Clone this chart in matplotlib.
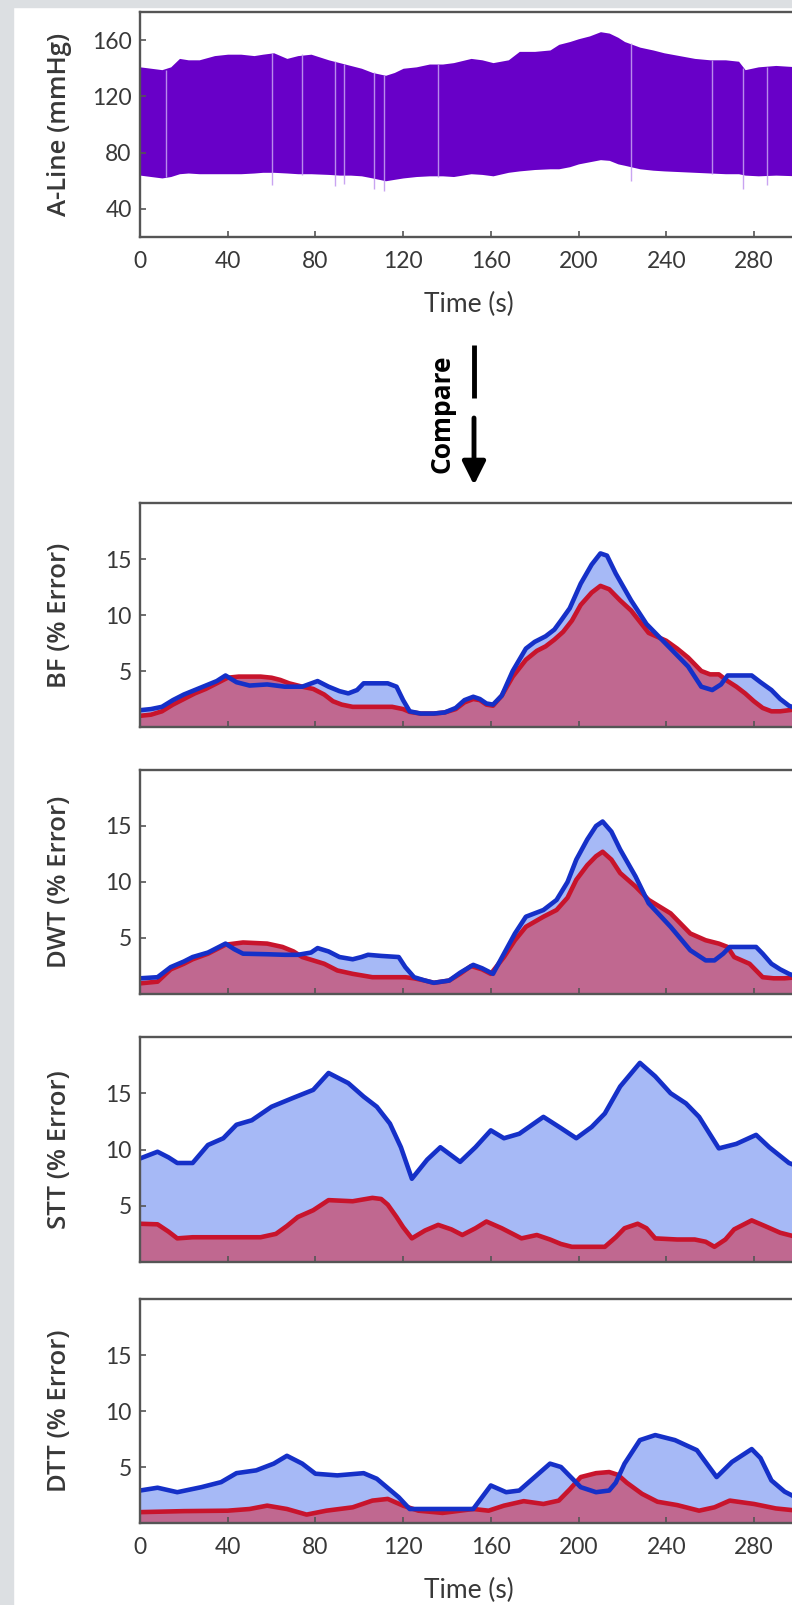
import numpy as np
import matplotlib
matplotlib.use("Agg")
import matplotlib.pyplot as plt
from matplotlib.patches import Rectangle, FancyArrowPatch
from matplotlib.lines import Line2D

plt.rcParams['font.family'] = ['Lato', 'DejaVu Sans']

# ---- data ----
time_ticks = [0, 40, 80, 120, 160, 200, 240, 280]

# arterial line envelope (mmHg)
aline_t = [0, 5, 10, 14, 18, 22, 27, 34, 40, 46, 52, 56, 61, 67, 72, 78, 86, 91, 96, 101,
           106, 112, 116, 120, 126, 132, 138, 143, 151, 156, 161, 168, 173, 180, 187, 191,
           196, 200, 205, 210, 214, 218, 221, 228, 234, 239, 246, 253, 260, 267, 273, 276,
           282, 290, 300]
aline_sys = [141, 140, 139, 141, 147, 146, 146, 149, 150, 150, 149, 150, 151, 147, 149, 150,
             146, 144, 142, 140, 137, 135, 137, 140, 141, 143, 143, 144, 147, 146, 144, 146,
             152, 152, 153, 157, 159, 161, 163, 166, 165, 162, 159, 155, 153, 151, 149, 147,
             146, 146, 145, 139, 141, 142, 141]
aline_dia = [64, 63, 62, 63, 65, 65.5, 65, 65, 65, 65, 65.5, 66, 66, 65.5, 65, 65, 64.5, 64,
             64, 63.5, 62, 60, 61, 62, 63, 63.5, 63.5, 63, 65, 64.5, 63.5, 66, 67, 68, 68.5,
             68.5, 70, 72, 73.5, 75, 74.5, 72, 71, 68.5, 67.5, 67, 66.5, 66, 65.5, 65, 65,
             64, 63.5, 64, 63.5]
artifact_t = [12, 60, 74, 89, 93, 106.5, 111.5, 136, 224, 261, 275, 286]
artifact_low = [63, 57, 64, 56, 58, 54, 53, 63, 60, 65, 54, 57]
artifact_high = [139, 151, 150, 145, 143, 137, 135, 143, 158, 146, 140, 141]

# BF (% error)
bf_blue_t = [0, 5, 10, 15, 20, 25, 30, 35, 39, 44, 50, 58, 66, 74, 81, 86, 91, 95, 99, 102,
             108, 113, 117, 120, 123, 128, 134, 139, 144, 148, 152, 155, 158, 161, 165, 170,
             176, 180, 185, 189, 192, 196, 201, 206, 210, 213, 217, 224, 231, 240, 250, 256,
             261, 265, 268, 274, 279, 283, 288, 292, 296, 300]
bf_blue = [1.5, 1.6, 1.8, 2.4, 2.9, 3.3, 3.7, 4.1, 4.6, 4.0, 3.7, 3.8, 3.6, 3.6, 4.1, 3.6,
           3.2, 3.0, 3.3, 3.9, 3.9, 3.9, 3.6, 2.4, 1.4, 1.2, 1.2, 1.3, 1.7, 2.4, 2.7, 2.5,
           2.1, 2.0, 2.8, 5.0, 7.0, 7.6, 8.1, 8.7, 9.5, 10.6, 12.8, 14.5, 15.5, 15.3, 13.7,
           11.3, 9.2, 7.4, 5.4, 3.6, 3.3, 3.8, 4.6, 4.6, 4.6, 4.0, 3.3, 2.5, 1.9, 1.6]
bf_red_t = [0, 5, 10, 15, 20, 25, 30, 35, 40, 45, 50, 55, 60, 64, 68, 74, 79, 84, 88, 92,
            97, 105, 115, 120, 123, 128, 134, 139, 144, 148, 152, 155, 158, 161, 165, 170,
            176, 181, 185, 189, 193, 197, 201, 206, 210, 214, 219, 224, 232, 240, 245, 250,
            256, 260, 264, 268, 272, 276, 280, 284, 288, 292, 296, 300]
bf_red = [1.0, 1.1, 1.4, 2.0, 2.5, 3.0, 3.4, 3.9, 4.4, 4.5, 4.5, 4.5, 4.4, 4.2, 3.9, 3.6,
          3.4, 2.9, 2.3, 2.0, 1.8, 1.8, 1.8, 1.6, 1.35, 1.2, 1.2, 1.3, 1.6, 2.2, 2.5, 2.4,
          2.0, 1.9, 2.8, 4.5, 6.0, 6.8, 7.2, 7.8, 8.5, 9.5, 10.9, 12.0, 12.6, 12.3, 11.3,
          10.4, 8.4, 7.7, 7.0, 6.2, 5.0, 4.7, 4.7, 4.1, 3.6, 3.0, 2.3, 1.7, 1.4, 1.4, 1.5, 1.6]

# DWT (% error)
dwt_blue_t = [0, 8, 14, 20, 24, 31, 39, 43, 47, 58, 66, 72, 78, 81, 86, 91, 97, 101, 104,
              110, 118, 121, 125, 130, 134, 141, 146, 152, 156, 161, 166, 171, 176, 184, 190,
              195, 199, 204, 208, 211, 215, 219, 226, 232, 242, 251, 258, 262, 266, 269, 275,
              281, 284, 288, 292, 296, 300]
dwt_blue = [1.4, 1.5, 2.4, 2.9, 3.3, 3.7, 4.5, 4.0, 3.6, 3.55, 3.5, 3.5, 3.7, 4.1, 3.8, 3.3,
            3.1, 3.3, 3.5, 3.4, 3.3, 2.4, 1.5, 1.2, 1.0, 1.2, 1.9, 2.6, 2.3, 1.8, 3.6, 5.4,
            6.9, 7.5, 8.4, 10.0, 12.0, 13.8, 15.0, 15.4, 14.5, 12.9, 10.5, 8.1, 6.0, 3.9, 3.0,
            3.0, 3.6, 4.2, 4.2, 4.2, 3.6, 2.7, 2.2, 1.8, 1.5]
dwt_red_t = [0, 8, 14, 20, 24, 31, 39, 47, 58, 65, 70, 74, 79, 84, 90, 97, 106, 118, 121,
             125, 130, 134, 141, 146, 151, 156, 160, 166, 171, 176, 184, 190, 195, 199, 204,
             208, 211, 215, 219, 226, 232, 242, 251, 258, 264, 268, 271, 278, 284, 289, 294, 300]
dwt_red = [0.95, 1.1, 2.2, 2.7, 3.1, 3.6, 4.4, 4.6, 4.5, 4.2, 3.8, 3.3, 3.0, 2.7, 2.1, 1.8,
           1.5, 1.5, 1.5, 1.4, 1.2, 1.0, 1.2, 1.8, 2.5, 2.2, 1.8, 3.3, 4.8, 6.0, 6.9, 7.5,
           8.6, 10.2, 11.5, 12.3, 12.7, 12.0, 10.8, 9.6, 8.4, 7.2, 5.4, 4.8, 4.5, 4.2, 3.3,
           2.7, 1.5, 1.4, 1.4, 1.5]

# STT (% error)
stt_blue_t = [0, 8, 13, 17, 24, 31, 38, 44, 51, 60, 70, 79, 86, 95, 102, 108, 114, 119, 124,
              131, 137, 146, 153, 160, 166, 173, 184, 192, 199, 206, 212, 219, 228, 235, 242,
              249, 255, 264, 272, 281, 287, 296, 300]
stt_blue = [9.2, 9.8, 9.3, 8.8, 8.8, 10.4, 11.0, 12.2, 12.6, 13.8, 14.6, 15.3, 16.8, 15.9,
            14.7, 13.8, 12.3, 10.2, 7.4, 9.1, 10.2, 8.9, 10.2, 11.7, 11.0, 11.4, 12.9, 11.9,
            11.0, 12.0, 13.2, 15.6, 17.7, 16.5, 15.0, 14.1, 12.9, 10.1, 10.5, 11.3, 10.2, 8.8, 8.5]
stt_red_t = [0, 8, 13, 17, 24, 35, 45, 55, 62, 67, 72, 79, 86, 97, 106, 110, 113, 117, 120,
             124, 130, 136, 142, 147, 153, 158, 165, 170, 174, 181, 187, 192, 197, 212, 217,
             221, 227, 231, 235, 245, 253, 258, 262, 267, 271, 279, 285, 292, 300]
stt_red = [3.4, 3.35, 2.7, 2.1, 2.2, 2.2, 2.2, 2.2, 2.5, 3.2, 4.0, 4.6, 5.5, 5.4, 5.7, 5.6,
           5.1, 4.0, 3.1, 2.1, 2.8, 3.3, 2.9, 2.4, 3.0, 3.6, 3.0, 2.5, 2.1, 2.4, 2.0, 1.6,
           1.35, 1.35, 2.2, 3.0, 3.4, 3.0, 2.1, 2.0, 2.0, 1.8, 1.35, 2.0, 2.9, 3.7, 3.2, 2.6, 2.2]

# DTT (% error)
dtt_blue_t = [0, 8, 17, 28, 37, 44, 53, 61, 67, 74, 80, 90, 102, 108, 118, 123, 136, 152,
              156, 160, 167, 173, 180, 187, 192, 197, 201, 208, 214, 217, 221, 228, 235, 244,
              254, 263, 270, 279, 283, 288, 294, 300]
dtt_blue = [2.9, 3.15, 2.75, 3.2, 3.65, 4.45, 4.7, 5.3, 6.0, 5.3, 4.4, 4.25, 4.45, 3.95,
            2.3, 1.25, 1.25, 1.25, 2.3, 3.35, 2.75, 2.9, 4.1, 5.3, 5.0, 4.0, 3.2, 2.75, 2.9,
            3.6, 5.3, 7.4, 7.85, 7.4, 6.5, 4.1, 5.45, 6.6, 5.8, 3.8, 2.8, 2.2]
dtt_red_t = [0, 20, 40, 50, 58, 67, 76, 85, 97, 106, 113, 120, 127, 138, 152, 159, 166, 175,
             184, 191, 196, 201, 208, 214, 218, 222, 229, 236, 245, 255, 262, 269, 280, 290, 300]
dtt_red = [0.97, 1.06, 1.1, 1.25, 1.55, 1.25, 0.75, 1.1, 1.4, 2.0, 2.15, 1.55, 1.1, 0.9,
           1.25, 1.1, 1.55, 1.95, 1.7, 2.0, 3.0, 4.1, 4.45, 4.55, 4.3, 3.6, 2.6, 1.9, 1.6,
           1.1, 1.4, 2.0, 1.7, 1.3, 1.1]

# ---- layout (pixels of the 792x1605 picture) ----
W, H = 792, 1605
AX_LEFT, AX_RIGHT = 140, 797.75

PURPLE = '#6800c8'
BLUE_LINE, BLUE_FILL = '#1530c8', '#a6b9f6'
RED_LINE, RED_FILL = '#c8142c', '#c06890'
FRAME = '#555555'
TEXT = '#383838'

fig = plt.figure(figsize=(W / 100, H / 100), dpi=100)
fig.patch.set_facecolor('white')

# grey page border (left and top)
fig.add_artist(Rectangle((0, 0), 13 / W, 1, transform=fig.transFigure,
                         color='#dcdfe2', zorder=-1))
fig.add_artist(Rectangle((0, 1 - 7 / H), 1, 7 / H, transform=fig.transFigure,
                         color='#dcdfe2', zorder=-1))


def add_axes(top, bottom):
    return fig.add_axes([AX_LEFT / W, 1 - bottom / H,
                         (AX_RIGHT - AX_LEFT) / W, (bottom - top) / H])


def style(ax, yticks, ylim, label, xlabels):
    ax.set_xlim(0, 300)
    ax.set_ylim(*ylim)
    ax.set_xticks(time_ticks)
    ax.set_yticks(yticks)
    ax.tick_params(direction='in', length=4, width=1.2, color=FRAME,
                   labelsize=16.5, labelcolor=TEXT)
    ax.tick_params(axis='x', pad=10)
    ax.tick_params(axis='y', pad=6)
    for s in ax.spines.values():
        s.set_color(FRAME)
        s.set_linewidth(1.7)
    ax.set_ylabel(label, family=['Open Sans', 'DejaVu Sans'], fontweight='semibold',
                  fontsize=18.5, color=TEXT, va='center')
    ax.yaxis.set_label_coords((59.5 - AX_LEFT) / (AX_RIGHT - AX_LEFT), 0.5)
    if xlabels:
        ax.set_xlabel('Time (s)', fontsize=19, color=TEXT, va='center')
        ax.xaxis.set_label_coords(0.5, -0.30)
    else:
        ax.set_xticklabels([])


# A-Line panel
ax = add_axes(12, 237)
ax.fill_between(aline_t, aline_dia, aline_sys, color=PURPLE, lw=0)
ax.vlines(artifact_t, artifact_low, artifact_high, color='#c39af0', lw=1.0, alpha=0.9)
style(ax, [40, 80, 120, 160], (20, 180), 'A-Line (mmHg)', True)


def error_panel(top, bottom, blue_t, blue, red_t, red, label, xlabels=False):
    ax = add_axes(top, bottom)
    ax.fill_between(blue_t, 0, blue, color=BLUE_FILL, lw=0)
    ax.fill_between(red_t, 0, red, color=RED_FILL, lw=0)
    ax.plot(red_t, red, color=RED_LINE, lw=3.3, solid_joinstyle='round')
    ax.plot(blue_t, blue, color=BLUE_LINE, lw=3.3, solid_joinstyle='round')
    style(ax, [5, 10, 15], (0, 20), label, xlabels)
    return ax


error_panel(503, 727, bf_blue_t, bf_blue, bf_red_t, bf_red, 'BF (% Error)')
error_panel(770, 994, dwt_blue_t, dwt_blue, dwt_red_t, dwt_red, 'DWT (% Error)')
error_panel(1037, 1262, stt_blue_t, stt_blue, stt_red_t, stt_red, 'STT (% Error)')
error_panel(1299, 1523, dtt_blue_t, dtt_blue, dtt_red_t, dtt_red, 'DTT (% Error)', True)

# "Compare" marker between the panels
fig.text(441.7 / W, 1 - 414 / H, 'Compare', rotation=90, ha='center', va='center',
         family=['Open Sans', 'DejaVu Sans'], fontweight='bold', fontsize=19, color='black')
fig.add_artist(Line2D([474 / W, 474 / W], [1 - 345 / H, 1 - 398 / H],
                      color='black', lw=3.5, solid_capstyle='butt'))
fig.add_artist(FancyArrowPatch((474 / W, 1 - 418 / H), (474 / W, 1 - 485 / H),
                               transform=fig.transFigure,
                               arrowstyle='-|>,head_width=0.35,head_length=0.7',
                               mutation_scale=20, lw=3.5, color='black',
                               shrinkA=0, shrinkB=0))

fig.savefig('out.png', dpi=100)
